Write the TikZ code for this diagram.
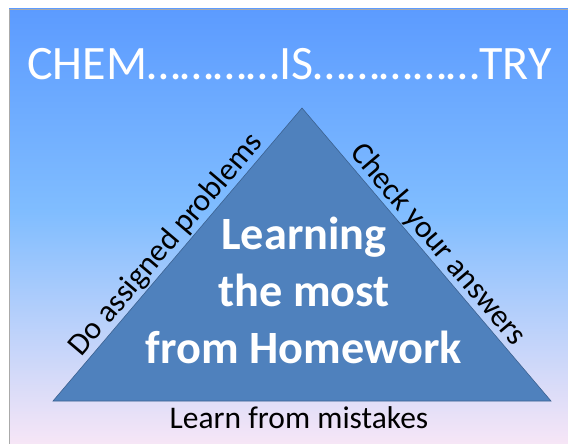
\documentclass[tikz,border=0pt]{standalone}
\usepackage{fontspec}
\setmainfont{Carlito}
\definecolor{topblue}{RGB}{92,155,255}
\definecolor{midblue}{RGB}{128,189,255}
\definecolor{pinkbot}{RGB}{250,231,246}
\definecolor{framegray}{RGB}{170,170,170}
\definecolor{trifill}{RGB}{79,129,189}
\definecolor{triedge}{RGB}{60,98,145}
\pgfdeclareverticalshading{bgshade}{100bp}{color(0bp)=(pinkbot); color(25bp)=(pinkbot); color(52bp)=(midblue); color(75bp)=(topblue); color(100bp)=(topblue)}
\tikzset{
  titletext/.style={text=white, inner sep=0pt, font=\fontsize{48}{52}\selectfont},
  sidetext/.style={text=black, inner sep=1pt, font=\fontsize{31.5}{36}\selectfont},
  centertext/.style={text=white, inner sep=0pt, font=\bfseries\fontsize{46.3}{52}\selectfont},
  tri/.style={fill=trifill, draw=triedge, line width=0.6pt, line join=miter}
}
\begin{document}
\begin{tikzpicture}[x=1pt, y=-1pt]
\useasboundingbox (0,0) rectangle (568,444);
\fill[white] (0,0) rectangle (568,444);
\shade[shading=bgshade, draw=framegray, line width=0.8pt] (9,9) rectangle (575,450);
\coordinate (apex) at (302,108);
\coordinate (bl) at (53,401);
\coordinate (br) at (551,401);
\draw[tri] (bl) -- (apex) -- (br) -- cycle;
\node[titletext, anchor=base west] (title) at (27,80) {CHEM…………IS……………TRY};
\path (bl) -- node[sidetext, sloped, above, pos=0.5] (left) {Do assigned problems} (apex);
\path (apex) -- node[sidetext, sloped, above, pos=0.5] (right) {Check your answers} (br);
\node[sidetext, anchor=base, inner sep=0pt] (bottom) at (299,428) {Learn from mistakes};
\node[centertext, anchor=base] (l1) at (304,249) {Learning};
\node[centertext, anchor=base] (l2) at (304,306) {the most};
\node[centertext, anchor=base] (l3) at (304,363) {from Homework};
\end{tikzpicture}
\end{document}
